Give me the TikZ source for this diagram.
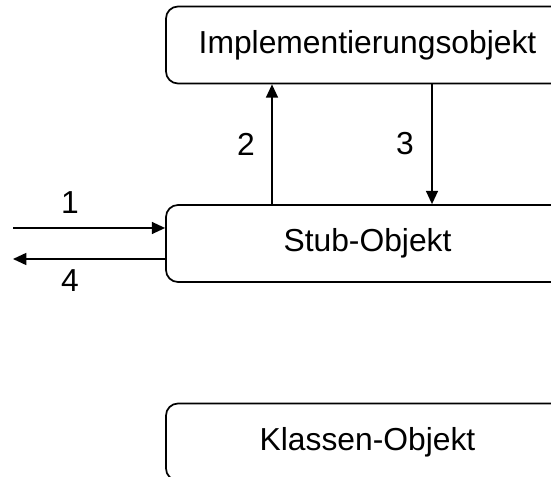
\documentclass[tikz,border=0pt]{standalone}
\usepackage{fontspec}
\setmainfont{Liberation Sans}
\usetikzlibrary{arrows.meta}
\begin{document}
\begin{tikzpicture}[x=0.75pt,y=-0.75pt,
  box/.style={draw,line width=1.3pt,rounded corners=9pt,minimum width=302.25pt,minimum height=57.75pt,inner sep=0pt,font=\fontsize{23.85}{28}\selectfont},
  lbl/.style={font=\fontsize{23.85}{28}\selectfont,inner sep=0pt},
  arr/.style={line width=1.2pt,-{Triangle[length=10pt,width=9pt]}}]
\useasboundingbox (0,0) rectangle (551,477);
\clip (0,0) rectangle (551,477);
\node[box] (impl) at (367.5,45) {Implementierungsobjekt};
\node[box] (stub) at (367.5,243.5) {Stub-Objekt};
\node[box] (klass) at (367.5,442) {Klassen-Objekt};
\coordinate (x2) at (272,0);
\coordinate (x3) at (432,0);
\coordinate (l1) at (13,228);
\coordinate (l4) at (13,259);
\draw[arr] (x2 |- stub.north) -- (x2 |- impl.south);
\draw[arr] (x3 |- impl.south) -- (x3 |- stub.north);
\draw[arr] (l1) -- (l1 -| stub.west);
\draw[arr] (l4 -| stub.west) -- (l4);
\node[lbl] (n1) at (70,203) {1};
\node[lbl] (n2) at (246,144) {2};
\node[lbl] (n3) at (405,144) {3};
\node[lbl] (n4) at (70,281) {4};
\end{tikzpicture}
\end{document}
